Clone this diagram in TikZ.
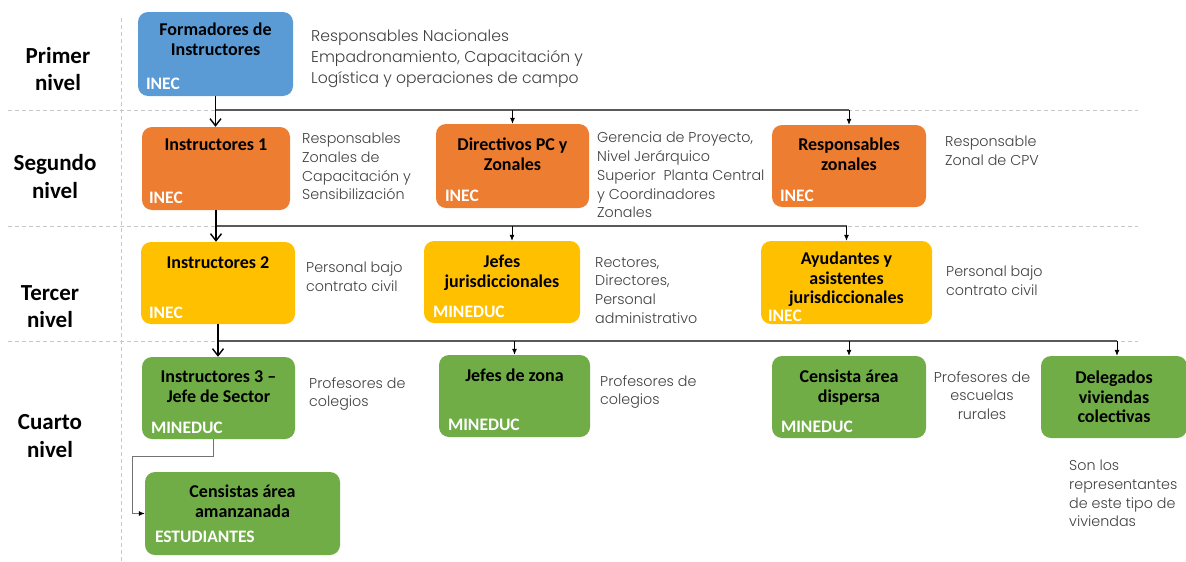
\documentclass[tikz,border=0pt]{standalone}
\usepackage{fontspec}
\setmainfont{Carlito}
\newfontfamily\sidefont{Poppins Light}
\usetikzlibrary{arrows.meta,calc}
\definecolor{cblue}{HTML}{5B9BD5}
\definecolor{corange}{HTML}{ED7D31}
\definecolor{cyellow}{HTML}{FFC000}
\definecolor{cgreen}{HTML}{70AD47}
\definecolor{sidegray}{HTML}{404040}
\definecolor{sepgray}{HTML}{C8C8C8}
\begin{document}
\begin{tikzpicture}[x=1pt,y=-1pt,
  box/.style={rounded corners=10pt, inner sep=0pt, draw=none},
  ttl/.style={font=\bfseries\fontsize{18}{19.5}\selectfont, align=center, anchor=north, inner sep=0pt, text=black},
  tag/.style={font=\bfseries\fontsize{17.5}{20}\selectfont, text=white, anchor=base west, inner sep=0pt},
  side/.style={font=\sidefont\fontsize{14.3}{18.7}\selectfont, text=sidegray, align=left, anchor=north west, inner sep=0pt},
  lvl/.style={font=\bfseries\fontsize{23}{27.5}\selectfont, align=center, inner sep=0pt},
  sep/.style={dash pattern=on 4pt off 3pt, draw=sepgray, line width=0.8pt},
  mainarr/.style={draw=black, line width=1.4pt, -{Straight Barb[length=7pt,width=11pt]}},
  bus/.style={draw=black!65, line width=1.4pt},
  smallarr/.style={draw=black, line width=0.8pt, -{Latex[length=6pt,width=5pt]}},
  elbow/.style={draw=black!55, line width=0.8pt, -{Latex[length=6pt,width=5pt,color=black]}}
]
\useasboundingbox (0,0) rectangle (1186,562);

% separators
\draw[sep] (8,110) -- (1138,110);
\draw[sep] (8,226) -- (1138,226);
\draw[sep] (8,341) -- (1138,341);
\draw[sep] (121,18) -- (121,562);

% level labels
\node[lvl] (l1) at (58,69) {Primer\\nivel};
\node[lvl] (l2) at (55,176.5) {Segundo\\nivel};
\node[lvl] (l3) at (50,306.5) {Tercer\\nivel};
\node[lvl] (l4) at (50,436) {Cuarto\\nivel};

% boxes
\node[box, fill=cblue, minimum width=155pt, minimum height=84pt] (form) at (215.5,54) {};
\node[box, fill=corange, minimum width=148pt, minimum height=83pt] (ins1) at (216,168.5) {};
\node[box, fill=corange, minimum width=153pt, minimum height=84pt] (dir) at (512.5,166) {};
\node[box, fill=corange, minimum width=154pt, minimum height=82pt] (rz) at (849,166) {};
\node[box, fill=cyellow, minimum width=154pt, minimum height=82pt] (ins2) at (218,283) {};
\node[box, fill=cyellow, minimum width=156pt, minimum height=82pt] (jj) at (502,282) {};
\node[box, fill=cyellow, minimum width=171pt, minimum height=83pt] (ayu) at (846.5,282.5) {};
\node[box, fill=cgreen, minimum width=153pt, minimum height=82pt] (ins3) at (218.5,398) {};
\node[box, fill=cgreen, minimum width=151pt, minimum height=82pt] (jz) at (514.5,396) {};
\node[box, fill=cgreen, minimum width=154pt, minimum height=82pt] (cad) at (849,397) {};
\node[box, fill=cgreen, minimum width=146pt, minimum height=82pt] (del) at (1114,397) {};
\node[box, fill=cgreen, minimum width=195pt, minimum height=83pt] (cam) at (242.5,513.5) {};

% titles
\node[ttl] (formT) at ([yshift=-11pt]form.north) {Formadores de\\Instructores};
\node[ttl] (ins1T) at ([yshift=-12pt]ins1.north) {Instructores 1};
\node[ttl] (dirT) at ([yshift=-14pt]dir.north) {Directivos PC y\\Zonales};
\node[ttl] (rzT) at ([yshift=-13pt]rz.north) {Responsables\\zonales};
\node[ttl] (ins2T) at ([yshift=-15pt]ins2.north) {Instructores 2};
\node[ttl] (jjT) at ([yshift=-14pt]jj.north) {Jefes\\jurisdiccionales};
\node[ttl] (ayuT) at ([yshift=-11pt]ayu.north) {Ayudantes y\\asistentes\\jurisdiccionales};
\node[ttl] (ins3T) at ([yshift=-14pt]ins3.north) {Instructores 3 --\\Jefe de Sector};
\node[ttl] (jzT) at ([yshift=-14pt]jz.north) {Jefes de zona};
\node[ttl] (cadT) at ([yshift=-14pt]cad.north) {Censista área\\dispersa};
\node[ttl] (delT) at ([yshift=-15pt]del.north) {Delegados\\viviendas\\colectivas};
\node[ttl] (camT) at ([yshift=-13pt]cam.north) {Censistas área\\amanzanada};

% tags
\node[tag] (formG) at ([xshift=8pt,yshift=7pt]form.south west) {INEC};
\node[tag] (ins1G) at ([xshift=7pt,yshift=7pt]ins1.south west) {INEC};
\node[tag] (dirG) at ([xshift=9pt,yshift=7pt]dir.south west) {INEC};
\node[tag] (rzG) at ([xshift=8pt,yshift=6pt]rz.south west) {INEC};
\node[tag] (ins2G) at ([xshift=8pt,yshift=6pt]ins2.south west) {INEC};
\node[tag] (jjG) at ([xshift=9pt,yshift=6pt]jj.south west) {MINEDUC};
\node[tag] (ayuG) at ([xshift=7pt,yshift=3pt]ayu.south west) {INEC};
\node[tag] (ins3G) at ([xshift=9pt,yshift=5.5pt]ins3.south west) {MINEDUC};
\node[tag] (jzG) at ([xshift=9pt,yshift=7pt]jz.south west) {MINEDUC};
\node[tag] (cadG) at ([xshift=9pt,yshift=5.5pt]cad.south west) {MINEDUC};
\node[tag] (camG) at ([xshift=10pt,yshift=12.5pt]cam.south west) {ESTUDIANTES};

% side texts
\node[side, font=\sidefont\fontsize{15.6}{21}\selectfont] (formS) at (311,29.5) {Responsables Nacionales\\Empadronamiento, Capacitación y\\Logística y operaciones de campo};
\node[side] (ins1S) at (302,133) {Responsables\\Zonales de\\Capacitación y\\Sensibilización};
\node[side] (dirS) at (597,132) {Gerencia de Proyecto,\\Nivel Jerárquico\\Superior\ \ Planta Central\\y Coordinadores\\Zonales};
\node[side] (rzS) at (945,136) {Responsable\\Zonal de CPV};
\node[side] (ins2S) at (306,262) {Personal bajo\\contrato civil};
\node[side] (jjS) at (595,257) {Rectores,\\Directores,\\Personal\\administrativo};
\node[side] (ayuS) at (946,266) {Personal bajo\\contrato civil};
\node[side] (ins3S) at (309,377) {Profesores de\\colegios};
\node[side] (jzS) at (600,375) {Profesores de\\colegios};
\node[side, anchor=north, align=center] (cadS) at (982,371) {Profesores de\\escuelas\\rurales};
\node[side] (delS) at (1069,460) {Son los\\representantes\\de este tipo de\\viviendas};

% connectors
\coordinate (b1) at (215.5,110);
\coordinate (b2) at (216,226);
\coordinate (b3) at (218,341);
\draw[bus] (b1) -- (b1 -| rz.north);
\draw[bus] (b2) -- (b2 -| ayu.north);
\draw[bus] (b3) -- (1117,341);
\draw[mainarr] (form.south) -- (form.south |- ins1.north);
\draw[smallarr] (b1 -| dir.north) -- (dir.north);
\draw[smallarr] (b1 -| rz.north) -- (rz.north);
\draw[mainarr] (ins1.south) -- (ins1.south |- ins2.north);
\draw[smallarr] ([xshift=10pt]jj.north |- b2) -- ([xshift=10pt]jj.north);
\draw[smallarr] (b2 -| ayu.north) -- (ayu.north);
\draw[mainarr] (ins2.south) -- (ins2.south |- ins3.north);
\draw[smallarr] (b3 -| jz.north) -- (jz.north);
\draw[smallarr] (b3 -| cad.north) -- (cad.north);
\draw[smallarr] ([xshift=3pt]del.north |- b3) -- ([xshift=3pt]del.north);
\coordinate (k1) at (132,456);
\draw[elbow] ([xshift=-5.5pt]ins3.south) |- (k1) |- (cam.west);
\end{tikzpicture}
\end{document}
